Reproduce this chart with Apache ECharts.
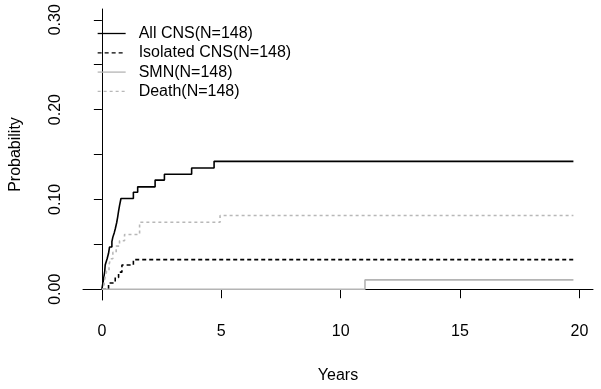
<!DOCTYPE html>
<html>
<head>
<meta charset="utf-8">
<script src="https://cdn.jsdelivr.net/npm/echarts@6/dist/echarts.min.js"></script>
<style>
  html, body { margin: 0; padding: 0; background: #fff; }
  #chart { width: 601px; height: 389px; }
</style>
</head>
<body>
<div id="chart"></div>
<script>
// times (years) where each cumulative incidence curve steps, and its level after the step
const allCnsTime = [0, 0.04, 0.08, 0.12, 0.14, 0.22, 0.28, 0.32, 0.42, 0.46, 0.52, 0.56, 0.62, 0.66, 0.70, 0.74, 0.80, 1.32, 1.50, 2.23, 2.62, 3.76, 4.70, 19.75]
const allCnsProb = [0, 0.0063, 0.013, 0.020, 0.027, 0.034, 0.040, 0.047, 0.053, 0.058, 0.063, 0.067, 0.074, 0.080, 0.087, 0.093, 0.101, 0.108, 0.114, 0.1215, 0.128, 0.135, 0.1424, 0.1424]

const isoCnsTime = [0, 0.28, 0.56, 0.70, 0.84, 1.32, 19.75]
const isoCnsProb = [0, 0.007, 0.013, 0.019, 0.027, 0.033, 0.033]

const smnTime = [0, 11.02, 19.75]
const smnProb = [0, 0.0104, 0.0104]

const deathTime = [0, 0.10, 0.14, 0.20, 0.30, 0.36, 0.46, 0.60, 0.74, 0.95, 1.58, 4.95, 19.75]
const deathProb = [0, 0.007, 0.014, 0.020, 0.027, 0.034, 0.041, 0.048, 0.054, 0.061, 0.0745, 0.082, 0.082]

const xTicks = [0, 5, 10, 15, 20]
const yTicks = [0, 0.05, 0.10, 0.15, 0.20, 0.25, 0.30]
const yLabels = [0, 0.10, 0.20, 0.30]

const seriesNames = ['All CNS(N=148)', 'Isolated CNS(N=148)', 'SMN(N=148)', 'Death(N=148)']

function pairs(t, p) {
  return t.map((v, i) => [v, p[i]])
}

const font = 'Liberation Sans, Arial, sans-serif'
const chart = echarts.init(document.getElementById('chart'))

chart.setOption({
  animation: false,
  textStyle: { fontFamily: font },
  grid: { left: 81, right: 8, top: 9, bottom: 87 },
  legend: {
    orient: 'vertical',
    left: 97,
    top: 25.5,
    padding: 0,
    itemWidth: 28,
    itemHeight: 14,
    itemGap: 3.3,
    selectedMode: false,
    itemStyle: { opacity: 0 },
    lineStyle: { width: 1.3 },
    textStyle: { fontSize: 16, color: '#000', fontFamily: font, lineHeight: 16, padding: [0, 0, 0, 8] },
    data: seriesNames
  },
  xAxis: {
    type: 'value',
    min: -0.79,
    max: 20.57,
    name: 'Years',
    nameLocation: 'middle',
    nameGap: 68,
    nameTextStyle: { fontSize: 16, color: '#000' },
    axisLine: { lineStyle: { color: '#000', width: 1 } },
    axisTick: { show: true, length: 9, customValues: xTicks, lineStyle: { color: '#000' } },
    axisLabel: { customValues: xTicks, fontSize: 16, color: '#000', margin: 24 },
    splitLine: { show: false }
  },
  yAxis: {
    type: 'value',
    min: -0.012,
    max: 0.312,
    name: 'Probability',
    nameLocation: 'middle',
    nameGap: 59,
    nameRotate: 90,
    nameTextStyle: { fontSize: 16, color: '#000' },
    axisLine: { show: true, lineStyle: { color: '#000', width: 1 } },
    axisTick: { show: true, length: 8, customValues: yTicks, lineStyle: { color: '#000' } },
    axisLabel: {
      customValues: yLabels,
      rotate: 90,
      fontSize: 16,
      color: '#000',
      margin: 19,
      formatter: v => v.toFixed(2)
    },
    splitLine: { show: false }
  },
  series: [
    {
      name: seriesNames[0],
      type: 'line',
      step: 'end',
      symbol: 'none',
      color: '#000',
      lineStyle: { color: '#000', width: 1.6 },
      data: pairs(allCnsTime, allCnsProb)
    },
    {
      name: seriesNames[1],
      type: 'line',
      step: 'end',
      symbol: 'none',
      color: '#000',
      lineStyle: { color: '#000', width: 1.6, type: [4, 3] },
      data: pairs(isoCnsTime, isoCnsProb)
    },
    {
      name: seriesNames[2],
      type: 'line',
      step: 'end',
      symbol: 'none',
      color: '#b4b4b4',
      lineStyle: { color: '#b4b4b4', width: 1.6 },
      data: pairs(smnTime, smnProb)
    },
    {
      name: seriesNames[3],
      type: 'line',
      step: 'end',
      symbol: 'none',
      color: '#b8b8b8',
      lineStyle: { color: '#b8b8b8', width: 1.6, type: [3, 3] },
      data: pairs(deathTime, deathProb)
    }
  ]
})
</script>
</body>
</html>
